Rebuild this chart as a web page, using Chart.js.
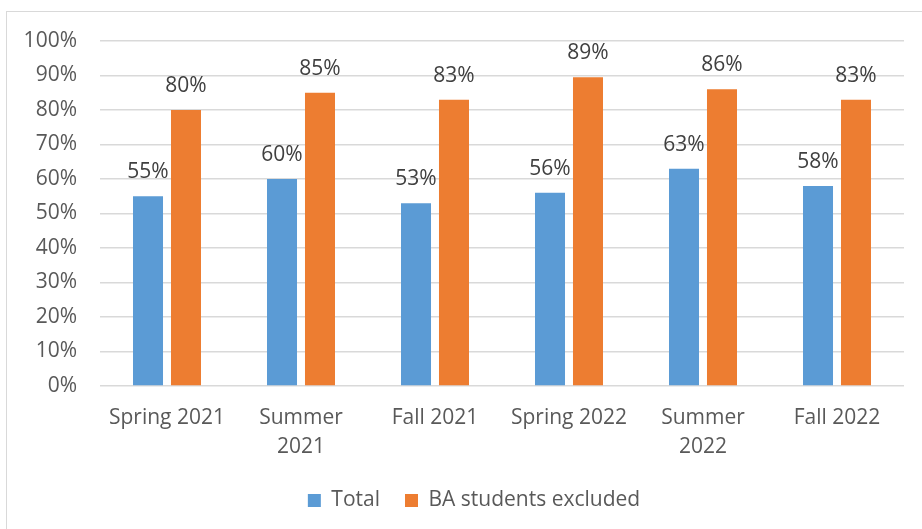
<!DOCTYPE html>
<html>
<head>
<meta charset="utf-8">
<script src="https://cdn.jsdelivr.net/npm/chart.js@4"></script>
<style>
  html, body { margin: 0; padding: 0; background: #fff; }
  #wrap { position: relative; width: 922px; height: 529px; overflow: hidden; }
  #frame { position: absolute; left: 6px; top: 11px; width: 940px; height: 540px; border: 1.5px solid #d9d9d9; box-sizing: border-box; }
  #chart { position: absolute; left: 0; top: 0; }
</style>
</head>
<body>
<div id="wrap">
  <div id="frame"></div>
  <canvas id="chart" width="922" height="529"></canvas>
</div>
<script>
// categories (two-line labels where the original wraps)
const categories = ['Spring 2021', ['Summer', '2021'], 'Fall 2021', 'Spring 2022', ['Summer', '2022'], 'Fall 2022'];
const seriesNames = ['Total', 'BA students excluded'];
const totalValues = [55, 60, 53, 56, 63, 58];
const baExcludedValues = [80, 85, 83, 89.5, 86, 83];
const totalLabels = ['55%', '60%', '53%', '56%', '63%', '58%'];
const baExcludedLabels = ['80%', '85%', '83%', '89%', '86%', '83%'];
const yTicks = [0, 10, 20, 30, 40, 50, 60, 70, 80, 90, 100];

const FONT = '"Open Sans", "Noto Sans", sans-serif';

// draws the value labels above each bar
const barLabels = {
    id: 'barLabels',
    afterDatasetsDraw(chart) {
        const ctx = chart.ctx;
        const labelSets = [totalLabels, baExcludedLabels];
        ctx.save();
        ctx.font = '21px ' + FONT;
        ctx.fillStyle = '#404040';
        ctx.textAlign = 'center';
        ctx.textBaseline = 'alphabetic';
        chart.data.datasets.forEach((ds, i) => {
            const meta = chart.getDatasetMeta(i);
            meta.data.forEach((bar, j) => {
                ctx.fillText(labelSets[i][j], bar.x, bar.y - 18);
            });
        });
        ctx.restore();
    }
};

// the legend in the original is centred on the frame, a bit right of the canvas centre
const legendShift = {
    id: 'legendShift',
    beforeDraw(chart) {
        if (chart.legend) chart.legend.left = 44;
    }
};

const chart = new Chart(document.getElementById('chart'), {
    type: 'bar',
    data: {
        labels: categories,
        datasets: [
            { label: seriesNames[0], data: totalValues, backgroundColor: '#5b9bd5' },
            { label: seriesNames[1], data: baExcludedValues, backgroundColor: '#ed7d31' }
        ]
    },
    options: {
        responsive: false,
        animation: false,
        categoryPercentage: 0.567,
        barPercentage: 0.79,
        layout: { padding: { left: 0, right: 18, top: 41, bottom: 8 } },
        plugins: {
            tooltip: { enabled: false },
            legend: {
                position: 'bottom',
                labels: {
                    boxWidth: 13,
                    boxHeight: 13,
                    padding: 25,
                    color: '#595959',
                    font: { family: FONT, size: 21 }
                }
            }
        },
        scales: {
            x: {
                grid: { display: false, drawTicks: false },
                border: { display: false },
                ticks: {
                    color: '#595959',
                    padding: 17,
                    maxRotation: 0,
                    autoSkip: false,
                    font: { family: FONT, size: 21, lineHeight: 1.4 }
                },
                afterFit(scale) { scale.height = 79; }
            },
            y: {
                min: 0,
                max: 100,
                afterBuildTicks(scale) { scale.ticks = yTicks.map(v => ({ value: v })); },
                grid: { color: '#d9d9d9', lineWidth: 1.5, drawTicks: false },
                border: { display: false },
                ticks: {
                    color: '#595959',
                    padding: 23,
                    font: { family: FONT, size: 21 },
                    callback: v => v + '%'
                },
                afterFit(scale) { scale.width = 100; }
            }
        }
    },
    plugins: [barLabels, legendShift]
});
</script>
</body>
</html>
